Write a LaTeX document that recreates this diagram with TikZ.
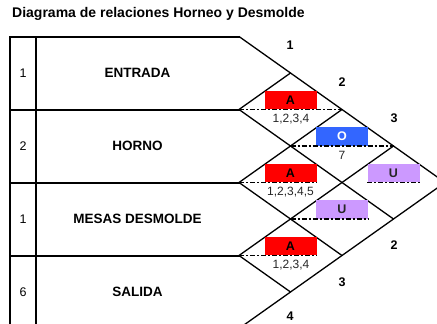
\documentclass[tikz,border=0pt]{standalone}
\usepackage{fontspec}
\setmainfont{Liberation Sans}
\begin{document}
\begin{tikzpicture}[x=1pt,y=-1pt,
  tbl/.style={line width=2pt,line cap=rect},
  diag/.style={line width=1.3pt},
  dashln/.style={line width=1.8pt,dash pattern=on 5pt off 2pt on 2pt off 2pt},
  dept/.style={font=\fontsize{13.5}{15}\selectfont\bfseries,inner sep=0pt},
  num/.style={font=\fontsize{12.5}{14}\selectfont,inner sep=0pt},
  edgenum/.style={font=\fontsize{12.5}{14}\selectfont\bfseries,inner sep=0pt},
  reason/.style={font=\fontsize{12}{14}\selectfont,text=black!85,inner sep=0pt},
  cellbox/.style={minimum width=52pt,minimum height=18.5pt,inner sep=0pt,anchor=south,font=\fontsize{12.5}{14}\selectfont\bfseries},
  boxA/.style={cellbox,fill=red},
  boxO/.style={cellbox,fill={rgb,255:red,51;green,102;blue,255},text=white},
  boxU/.style={cellbox,fill={rgb,255:red,204;green,153;blue,255},text=black!85}
]
\useasboundingbox (0,0) rectangle (437,324);
\clip (0,0) rectangle (437,324);
% lattice coordinates
\foreach \i in {0,...,4}{
  \foreach \j in {0,...,8}{
    \coordinate (p\i\j) at ({239+\i*51.5},{36.5+\j*36.5});
  }
}
% title
\node[font=\fontsize{14}{16}\selectfont\bfseries,anchor=base west,inner sep=0pt] (title) at (12,17.3) {Diagrama de relaciones Horneo y Desmolde};
% table
\coordinate (tl) at (10,36.5);
\coordinate (tbot) at (10,335);
\coordinate (ctop) at (36,36.5);
\coordinate (cbot) at (36,335);
\draw[tbl] (tbot) -- (tl) -- (p00);
\draw[tbl] (ctop) -- (cbot);
\draw[tbl] (10,109.5) -- (p02);
\draw[tbl] (10,182.5) -- (p04);
\draw[tbl] (10,255.5) -- (p06);
% department names and numbers
\node[num] (n1) at (23,73) {1};
\node[num] (n2) at (23,146) {2};
\node[num] (n3) at (23,219) {1};
\node[num] (n4) at (23,292) {6};
\node[dept] (d1) at (137.5,73) {ENTRADA};
\node[dept] (d2) at (137.5,146) {HORNO};
\node[dept] (d3) at (137.5,219) {MESAS DESMOLDE};
\node[dept] (d4) at (137.5,292) {SALIDA};
% outer triangle
\draw[diag] (p00) -- (p44) -- (p08);
% inner diagonals
\draw[diag] (p02) -- (p11);
\draw[diag] (p02) -- (p35);
\draw[diag] (p04) -- (p22);
\draw[diag] (p04) -- (p26);
\draw[diag] (p06) -- (p33);
\draw[diag] (p06) -- (p17);
% cells
\node[boxA] (c12) at (290.5,109.5) {A};
\node[boxO] (c23) at (342,146) {O};
\node[boxA] (c14) at (290.5,182.5) {A};
\node[boxU] (c34) at (393.5,182.5) {U};
\node[boxU] (c25) at (342,219) {U};
\node[boxA] (c16) at (290.5,255.5) {A};
% dashed lines
\draw[dashln] (p02) -- (p22);
\draw[dashln] (p13) -- (p33);
\draw[dashln] (p04) -- (c14.south east);
\draw[dashln] (c34.south west) -- (c34.south east);
\draw[dashln] (p15) -- (c25.south east);
\draw[dashln] (p06) -- (c16.south east);
% reasons
\node[reason] (r12) at (291,119.5) {1,2,3,4};
\node[reason] (r23) at (342,155.5) {7};
\node[reason] (r14) at (290.5,192) {1,2,3,4,5};
\node[reason] (r16) at (291,265) {1,2,3,4};
% edge numbers
\node[edgenum] (e1) at (290,45) {1};
\node[edgenum] (e2) at (342,82) {2};
\node[edgenum] (e3) at (394,118) {3};
\node[edgenum] (f2) at (394,245) {2};
\node[edgenum] (f3) at (342,282) {3};
\node[edgenum] (f4) at (290,316) {4};
\end{tikzpicture}
\end{document}
